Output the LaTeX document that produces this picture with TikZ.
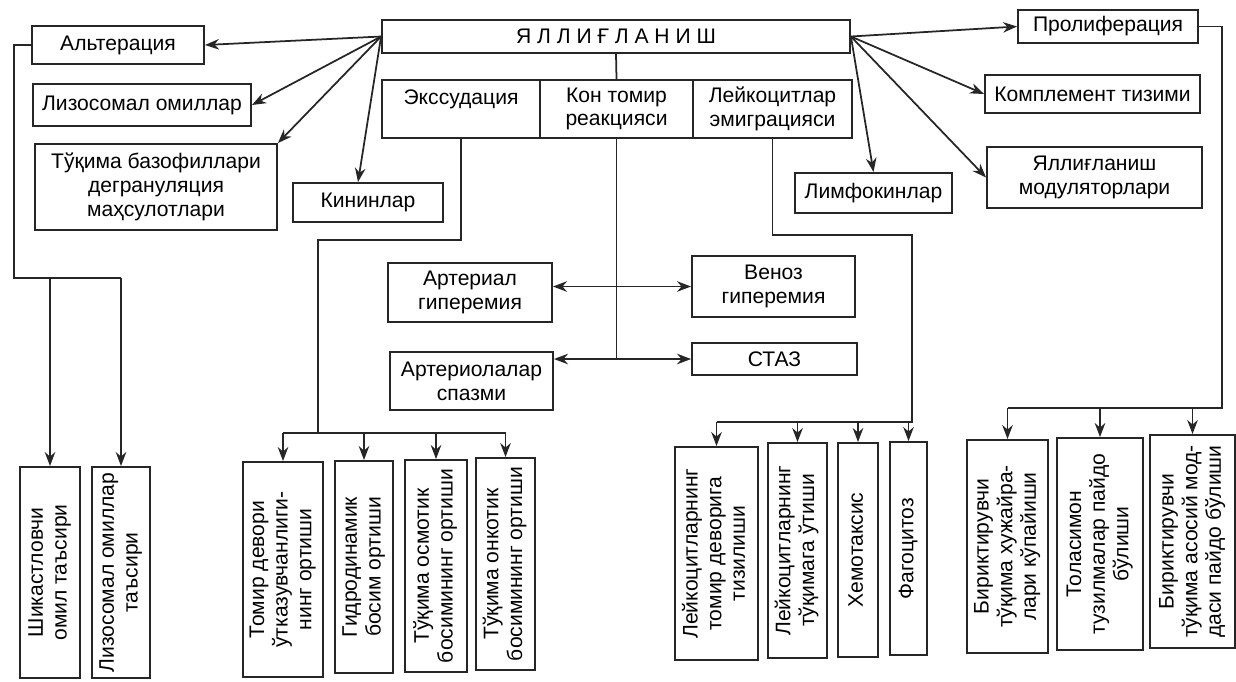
\documentclass[tikz,border=0pt]{standalone}
\usepackage{fontspec}
\setmainfont{Liberation Sans}
\usepackage{graphicx}
\usetikzlibrary{arrows.meta,calc}

\newcommand{\vlabel}[1]{\rotatebox{90}{\begin{tabular}{@{}c@{}}#1\end{tabular}}}

\tikzset{
  box/.style={draw=black!85, line width=1.1pt, inner sep=1pt, align=center,
    font=\fontsize{12}{13.5}\selectfont},
  link/.style={draw=black!85, line width=1pt},
  arr/.style={link, -{Stealth[length=8pt,width=6pt]}},
  dbl/.style={link, {Stealth[length=8pt,width=6pt]}-{Stealth[length=8pt,width=6pt]}}
}

\begin{document}
\begin{tikzpicture}[x=0.02cm, y=-0.02cm]
\useasboundingbox (0,0) rectangle (1236,681);

% top row
\node[box, minimum width=9.36cm, minimum height=0.66cm] (yal) at (616,36.5) {Я\ Л\ Л\ И\ Ғ\ Л\ А\ Н\ И\ Ш};
\node[box, minimum width=3.16cm, minimum height=1.16cm] (exs) at (461,109) {Экссудация\\\mbox{}};
\node[box, minimum width=3.06cm, minimum height=1.16cm] (kon) at (616.5,109) {Кон томир\\реакцияси};
\node[box, minimum width=3.18cm, minimum height=1.16cm] (ley) at (772.5,109) {Лейкоцитлар\\эмиграцияси};

% left column
\node[box, minimum width=3.44cm, minimum height=0.76cm] (alt) at (118,45) {Альтерация};
\node[box, minimum width=4.36cm, minimum height=0.84cm] (liz) at (142,105) {Лизосомал омиллар};
\node[box, minimum width=4.84cm, minimum height=1.72cm] (tuq) at (156,187) {Тўқима базофиллари\\дегрануляция\\маҳсулотлари};
\node[box, minimum width=3.0cm, minimum height=0.78cm] (kin) at (368,202.5) {Кининлар};

% right column
\node[box, minimum width=3.6cm, minimum height=0.66cm] (prol) at (1108,26.5) {Пролиферация};
\node[box, minimum width=4.3cm, minimum height=0.76cm] (komp) at (1092.5,94) {Комплемент тизими};
\node[box, minimum width=4.3cm, minimum height=1.22cm] (mod) at (1094.5,177.5) {Яллиғланиш\\модуляторлари};
\node[box, minimum width=3.14cm, minimum height=0.80cm] (limf) at (873.5,193) {Лимфокинлар};

% vascular reaction
\node[box, minimum width=3.28cm, minimum height=1.18cm] (art) at (470,292.5) {Артериал\\гиперемия};
\node[box, minimum width=3.26cm, minimum height=1.22cm] (ven) at (773.5,286.5) {Веноз\\гиперемия};
\node[box, minimum width=3.26cm, minimum height=1.16cm] (spz) at (471.5,381) {Артериолалар\\спазми};
\node[box, minimum width=3.3cm, minimum height=0.64cm] (staz) at (774.5,359) {СТАЗ};

% bottom row
\node[box, minimum width=1.2cm, minimum height=4.22cm] (b1) at (50,572.5) {\vlabel{Шикастловчи\\омил таъсири}};
\node[box, minimum width=1.16cm, minimum height=4.22cm] (b2) at (121,572.5) {\vlabel{Лизосомал омиллар\\таъсири}};
\node[box, minimum width=1.6cm, minimum height=4.3cm] (e1) at (283,569.5) {\vlabel{Томир девори\\ўтказувчанлиги-\\нинг ортиши}};
\node[box, minimum width=1.16cm, minimum height=4.24cm] (e2) at (364,567) {\vlabel{Гидродинамик\\босим ортиши}};
\node[box, minimum width=1.24cm, minimum height=4.24cm] (e3) at (436,566) {\vlabel{Тўқима осмотик\\босимининг ортиши}};
\node[box, minimum width=1.18cm, minimum height=4.24cm] (e4) at (505.5,564) {\vlabel{Тўқима онкотик\\босимининг ортиши}};
\node[box, minimum width=1.66cm, minimum height=4.26cm] (l1) at (716.5,553.5) {\vlabel{Лейкоцитларнинг\\томир деворига\\тизилиши}};
\node[box, minimum width=1.18cm, minimum height=4.3cm] (l2) at (797.5,550.5) {\vlabel{Лейкоцитларнинг\\тўқимага ўтиши}};
\node[box, minimum width=0.8cm, minimum height=4.28cm] (l3) at (858,550) {\vlabel{Хемотаксис}};
\node[box, minimum width=0.74cm, minimum height=4.26cm] (l4) at (908.5,548.5) {\vlabel{Фагоцитоз}};
\node[box, minimum width=1.62cm, minimum height=4.26cm] (p1) at (1007.5,546.5) {\vlabel{Бириктирувчи\\тўқима хужайра-\\лари кўпайиши}};
\node[box, minimum width=1.72cm, minimum height=4.24cm] (p2) at (1100,544) {\vlabel{Толасимон\\тузилмалар пайдо\\бўлиши}};
\node[box, minimum width=1.7cm, minimum height=4.26cm] (p3) at (1192.5,541.5) {\vlabel{Бириктирувчи\\тўқима асосий мод-\\даси пайдо бўлиши}};

% fans from the title
\draw[arr] (yal.west) -- (alt.east);
\draw[arr] (yal.west) -- (liz.east);
\draw[arr] (yal.west) -- (tuq.north east);
\draw[arr] (yal.west) -- ($(kin.north)+(-10,0)$);
\draw[arr] (yal.east) -- (prol.west);
\draw[arr] (yal.east) -- (komp.west);
\draw[arr] (yal.east) -- (mod.west);
\draw[arr] (yal.east) -- (limf.north);
\draw[link] (yal.south) -- (kon.north);

% alteration branch
\coordinate (altbus) at (14,278);
\draw[link] (alt.west) -| (altbus) -- (altbus -| b2.north);
\foreach \b in {b1,b2} \draw[arr] (altbus -| \b.north) -- (\b.north);

% exudation branch
\coordinate (exsbend) at (318,240);
\coordinate (exsbus) at (318,433);
\draw[link] (exs.south) |- (exsbend) -- (exsbus);
\draw[link] (exsbus -| e1.north) -- (exsbus -| e4.north);
\foreach \b in {e1,e2,e3,e4} \draw[arr] (exsbus -| \b.north) -- (\b.north);

% vascular branch
\draw[link] (kon.south) -- (kon.south |- staz.west);
\draw[dbl] (ven.west -| art.east) -- (ven.west);
\draw[dbl] (staz.west -| spz.east) -- (staz.west);

% emigration branch
\coordinate (leybend) at (912,235);
\coordinate (leybus) at (912,422);
\draw[link] (ley.south) |- (leybend) -- (leybus) -- (leybus -| l1.north);
\foreach \b in {l1,l2,l3,l4} \draw[arr] (leybus -| \b.north) -- (\b.north);

% proliferation branch
\coordinate (prolbus) at (1222,408);
\draw[link] (prol.east) -| (prolbus) -- (prolbus -| p1.north);
\foreach \b in {p1,p2,p3} \draw[arr] (prolbus -| \b.north) -- (\b.north);
\end{tikzpicture}
\end{document}
